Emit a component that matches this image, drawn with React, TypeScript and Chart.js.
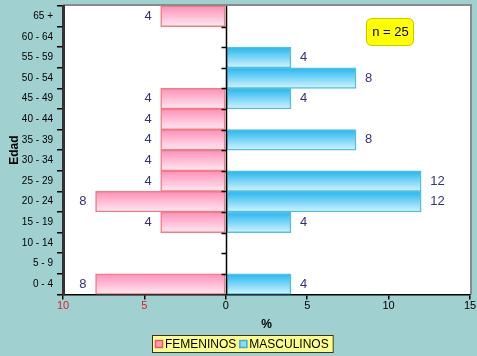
import React, { useEffect, useRef } from "react";
import { Chart, registerables } from "chart.js";

Chart.register(...registerables);

const categories = ["65 +", "60 - 64", "55 - 59", "50 - 54", "45 - 49", "40 - 44", "35 - 39", "30 - 34", "25 - 29", "20 - 24", "15 - 19", "10 - 14", "5 - 9", "0 - 4"];
const femeninos = [4, 0, 0, 0, 4, 4, 4, 4, 4, 8, 4, 0, 0, 8];
const masculinos = [0, 0, 4, 8, 4, 0, 8, 0, 12, 12, 4, 0, 0, 4];
const xTicks = [-10, -5, 0, 5, 10, 15];
const seriesNames = ["FEMENINOS", "MASCULINOS"];
const sampleLabel = "n = 25";

const FONT = "'Liberation Sans', Arial, sans-serif";

function gradFor(chart: any, idx: number, top: string, bottom: string) {
  const y = chart.scales && chart.scales.y;
  const ctx = chart.ctx;
  if (!y || !chart.chartArea) return top;
  const h = (y.bottom - y.top) / categories.length;
  const c = y.getPixelForValue(idx);
  const g = ctx.createLinearGradient(0, c - h / 2, 0, c + h / 2);
  g.addColorStop(0, top);
  g.addColorStop(1, bottom);
  return g;
}

const decorPlugin = {
  id: "decor",
  beforeDraw(chart: any) {
    const { ctx, width, height, chartArea: a } = chart;
    ctx.save();
    ctx.fillStyle = "#a0d0cf";
    ctx.fillRect(0, 0, width, height);
    ctx.fillStyle = "#ffffff";
    ctx.fillRect(a.left, a.top, a.right - a.left, a.bottom - a.top);
    ctx.strokeStyle = "#8a8a8a";
    ctx.lineWidth = 2;
    ctx.beginPath();
    ctx.moveTo(a.left, a.top - 1);
    ctx.lineTo(a.right + 1, a.top - 1);
    ctx.lineTo(a.right + 1, a.bottom);
    ctx.stroke();
    ctx.restore();
  },
  afterDatasetsDraw(chart: any) {
    const { ctx, chartArea: a, scales, height } = chart;
    const x = scales.x;
    const y = scales.y;
    const x0 = Math.round(x.getPixelForValue(0)) + 0.5;
    ctx.save();
    ctx.strokeStyle = "#000000";
    ctx.lineWidth = 1.5;
    ctx.beginPath();
    ctx.moveTo(x0, a.top);
    ctx.lineTo(x0, a.bottom);
    ctx.stroke();
    const h = (y.bottom - y.top) / categories.length;
    for (let i = 1; i < categories.length; i++) {
      const yy = Math.round(y.top + i * h) + 0.5;
      ctx.beginPath();
      ctx.moveTo(x0 - 5, yy);
      ctx.lineTo(x0, yy);
      ctx.stroke();
    }
    ctx.fillStyle = "#33337a";
    ctx.font = "13px " + FONT;
    ctx.textBaseline = "middle";
    categories.forEach((_, i) => {
      const cy = y.getPixelForValue(i);
      if (femeninos[i] > 0) {
        ctx.textAlign = "right";
        ctx.fillText(String(femeninos[i]), x.getPixelForValue(-femeninos[i]) - 9, cy);
      }
      if (masculinos[i] > 0) {
        ctx.textAlign = "left";
        ctx.fillText(String(masculinos[i]), x.getPixelForValue(masculinos[i]) + 9, cy);
      }
    });
    // n box
    const bx = 366, by = 18, bw = 47, bh = 27;
    ctx.fillStyle = "#ffff00";
    ctx.strokeStyle = "#c8c800";
    ctx.lineWidth = 1;
    ctx.beginPath();
    (ctx as any).roundRect(bx + 0.5, by + 0.5, bw, bh, 5);
    ctx.fill();
    ctx.stroke();
    ctx.fillStyle = "#000000";
    ctx.font = "13px " + FONT;
    ctx.textAlign = "center";
    ctx.fillText(sampleLabel, bx + bw / 2 + 1, by + bh / 2 + 1);

    // legend
    ctx.font = "12px " + FONT;
    const w0 = ctx.measureText(seriesNames[0]).width;
    const w1 = ctx.measureText(seriesNames[1]).width;
    const icon = 8;
    const total = 3 + icon + 2 + w0 + 3 + icon + 2 + w1 + 5;
    const lx = Math.round(243 - total / 2);
    const ly = height - 21;
    const lh = 18;
    ctx.fillStyle = "#ffff88";
    ctx.fillRect(lx, ly, total, lh);
    ctx.strokeStyle = "#333333";
    ctx.lineWidth = 1;
    ctx.strokeRect(lx + 0.5, ly + 0.5, total - 1, lh - 1);
    const cyL = ly + lh / 2;
    let cx = lx + 3;
    ctx.fillStyle = "#ff9fc0";
    ctx.fillRect(cx, cyL - 3, icon, 7);
    ctx.strokeStyle = "#ee5566";
    ctx.lineWidth = 1.5;
    ctx.strokeRect(cx + 0.5, cyL - 3.5, icon - 1, 7);
    cx += icon + 2;
    ctx.fillStyle = "#000000";
    ctx.textAlign = "left";
    ctx.textBaseline = "middle";
    ctx.fillText(seriesNames[0], cx, cyL + 1);
    cx += w0 + 3;
    ctx.fillStyle = "#88ddf8";
    ctx.fillRect(cx, cyL - 3, icon, 7);
    ctx.strokeStyle = "#44aadd";
    ctx.strokeRect(cx + 0.5, cyL - 3.5, icon - 1, 7);
    cx += icon + 2;
    ctx.fillStyle = "#000000";
    ctx.fillText(seriesNames[1], cx, cyL + 1);
    ctx.restore();
  },
};

export default function App() {
  const ref = useRef<HTMLCanvasElement>(null);
  useEffect(() => {
    document.body.style.margin = "0";
    const chart = new Chart(ref.current as HTMLCanvasElement, {
      type: "bar",
      data: {
        labels: categories,
        datasets: [
          {
            label: seriesNames[0],
            data: femeninos.map((v) => -v),
            backgroundColor: (c: any) => gradFor(c.chart, c.dataIndex, "#ff8fb8", "#ffeaf2"),
            borderColor: "#f07c84",
            borderWidth: 1.5,
            borderSkipped: false,
          },
          {
            label: seriesNames[1],
            data: masculinos,
            backgroundColor: (c: any) => gradFor(c.chart, c.dataIndex, "#22b6f0", "#d4f4ff"),
            borderColor: "#55bfe0",
            borderWidth: 1.5,
            borderSkipped: false,
          },
        ],
      },
      options: {
        indexAxis: "y",
        animation: false,
        responsive: true,
        maintainAspectRatio: false,
        layout: { padding: { left: 0, right: 7, top: 6, bottom: 24 } },
        datasets: { bar: { barPercentage: 1, categoryPercentage: 1 } },
        scales: {
          x: {
            type: "linear",
            stacked: true,
            min: -10,
            max: 15,
            afterBuildTicks: (s: any) => {
              s.ticks = xTicks.map((v) => ({ value: v }));
            },
            ticks: {
              callback: (v: any) => String(Math.abs(Number(v))),
              color: (c: any) => (c.tick && c.tick.value < 0 ? "#dd2222" : "#000000"),
              font: { family: FONT, size: 11 },
              padding: 0,
            },
            grid: { drawOnChartArea: false, drawTicks: true, tickLength: 5, color: "#000000", lineWidth: 1.5 },
            border: { color: "#000000", width: 1.5 },
            title: { display: true, text: "%", color: "#000000", font: { family: FONT, size: 12, weight: "bold" }, padding: { top: 5, bottom: 0 } },
          },
          y: {
            type: "category",
            stacked: true,
            offset: true,
            ticks: { color: "#000000", font: { family: FONT, size: 10 }, padding: 4 },
            grid: { offset: true, drawOnChartArea: false, drawTicks: true, tickLength: 6, color: "#000000", lineWidth: 1.5 },
            border: { color: "#333333", width: 3 },
            title: { display: true, text: "Edad", color: "#000000", font: { family: FONT, size: 12, weight: "bold" }, padding: { top: 7, bottom: 0 } },
            afterFit: (s: any) => {
              s.width = 63;
              s.paddingTop = 0;
              s.paddingBottom = 0;
            },
          },
        },
        plugins: {
          legend: { display: false },
          tooltip: { enabled: false },
        },
      },
      plugins: [decorPlugin],
    } as any);
    return () => chart.destroy();
  }, []);
  return (
    <div style={{ position: "fixed", left: 0, top: 0, width: 477, height: 356 }}>
      <canvas ref={ref} />
    </div>
  );
}
